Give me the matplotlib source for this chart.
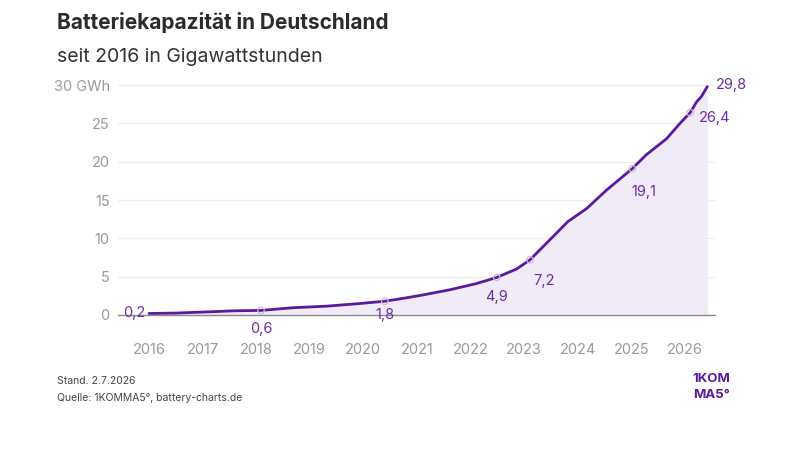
import matplotlib
matplotlib.use("Agg")
import matplotlib.pyplot as plt

plt.rcParams['font.family'] = ['Inter', 'DejaVu Sans']

# Data (decimal years, GWh)
years = [2016.0, 2016.5, 2017.14, 2017.6, 2018.09, 2018.69, 2019.31, 2019.94, 2020.4,
         2020.68, 2021.1, 2021.62, 2022.11, 2022.49, 2022.86, 2023.11, 2023.48, 2023.82,
         2024.17, 2024.54, 2025.02, 2025.28, 2025.66, 2025.91, 2026.1, 2026.22, 2026.31, 2026.42]
values = [0.2, 0.25, 0.42, 0.55, 0.6, 0.95, 1.15, 1.5, 1.8,
          2.1, 2.6, 3.3, 4.1, 4.9, 6.0, 7.2, 9.8, 12.2,
          13.9, 16.3, 19.1, 20.9, 23.0, 25.0, 26.4, 27.8, 28.5, 29.8]

label_years = [2016.0, 2018.09, 2020.4, 2022.49, 2023.11, 2025.02, 2026.1, 2026.42]
label_values = [0.2, 0.6, 1.8, 4.9, 7.2, 19.1, 26.4, 29.8]
label_texts = ["0,2", "0,6", "1,8", "4,9", "7,2", "19,1", "26,4", "29,8"]

year_ticks = list(range(2016, 2027))
y_ticks = [0, 5, 10, 15, 20, 25, 30]
y_ticklabels = ["0", "5", "10", "15", "20", "25", "30 GWh"]

purple = "#5b1a9c"
label_purple = "#6b2fa6"
gray = "#9a9a9a"

fig = plt.figure(figsize=(8, 4.5), dpi=100)
ax = fig.add_axes([0.1475, 0.30, 0.746, 0.511])

ax.fill_between(years, values, 0, color="#f1ebf7", lw=0)
ax.plot(years, values, color=purple, lw=2.0, solid_capstyle="round", clip_on=False, zorder=3)
ax.scatter(label_years[1:-1], label_values[1:-1], s=22, facecolor="none",
           edgecolor="#c9bcd8", lw=0.9, zorder=4)

offsets = [(-3, 0, "right", "center"), (0, -8, "center", "top"), (0, -5, "center", "top"),
           (0, -9, "center", "top"), (2, -10, "left", "top"), (8, -12, "center", "top"),
           (6, -4, "left", "center"), (6, 1, "left", "center")]
for x, y, t, (dx, dy, ha, va) in zip(label_years, label_values, label_texts, offsets):
    ax.annotate(t, (x, y), xytext=(dx, dy), textcoords="offset points", ha=ha, va=va,
                fontsize=10.5, color=label_purple, zorder=5)

ax.set_xlim(2015.42, 2026.56)
ax.set_ylim(0, 30)
ax.set_yticks(y_ticks)
ax.set_yticklabels(y_ticklabels)
ax.set_xticks(year_ticks)
ax.set_xticklabels([str(y) for y in year_ticks])
ax.tick_params(axis="both", length=0, labelsize=10.5, labelcolor=gray)
ax.tick_params(axis="y", pad=6)
ax.tick_params(axis="x", pad=20)
for s in ["top", "right", "left"]:
    ax.spines[s].set_visible(False)
ax.spines["bottom"].set_color("#8a8a8a")
ax.spines["bottom"].set_linewidth(1.0)
ax.grid(axis="y", color="#ececec", lw=0.9)
ax.set_axisbelow(True)

fig.text(0.071, 0.951, "Batteriekapazität in Deutschland", fontsize=15, fontweight="bold",
         color="#2b2b2b", va="center")
fig.text(0.071, 0.873, "seit 2016 in Gigawattstunden", fontsize=14, color="#333333", va="center")
fig.text(0.071, 0.153, "Stand. 2.7.2026", fontsize=7.5, color="#444444", va="center")
fig.text(0.071, 0.115, "Quelle: 1KOMMA5°, battery-charts.de", fontsize=7.5, color="#444444", va="center")
fig.text(0.866, 0.157, "1KOM", fontsize=9.5, fontweight="bold", color="#5b1a9c", va="center")
fig.text(0.866, 0.122, "MA5°", fontsize=9.5, fontweight="bold", color="#5b1a9c", va="center")

fig.savefig("out.png", dpi=100)
